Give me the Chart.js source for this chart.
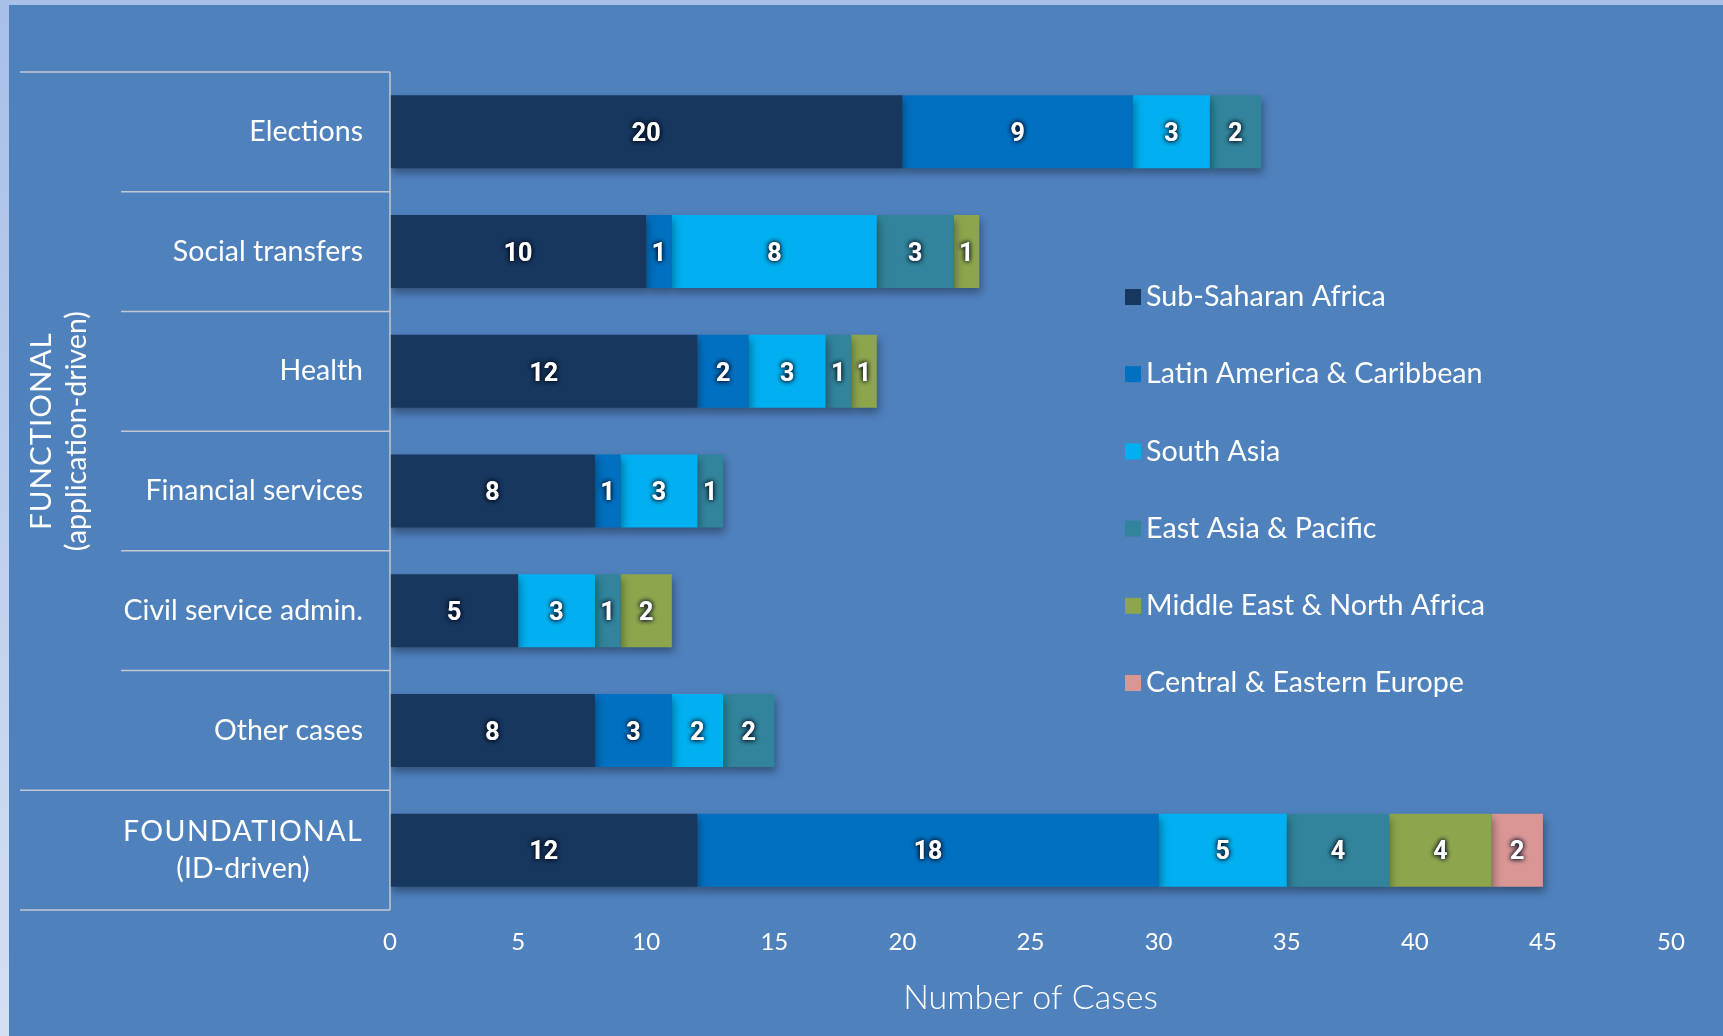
<!DOCTYPE html>
<html>
<head>
<meta charset="utf-8">
<title>Number of Cases by Region</title>
<script src="https://cdn.jsdelivr.net/npm/chart.js@4.4.1/dist/chart.umd.min.js"></script>
<style>
    html, body { margin: 0; padding: 0; width: 1723px; height: 1036px; overflow: hidden; }
    body { position: relative; background: linear-gradient(to bottom, #a8bfe8, #d4dff2); }
    #panel { position: absolute; left: 9px; top: 5px; right: 0; bottom: 0; background: #4f81bd; }
    #wrap { position: absolute; left: 0; top: 0; width: 1723px; height: 1036px; }
</style>
</head>
<body>
<div id="panel"></div>
<div id="wrap"><canvas id="casesChart" width="1723" height="1036"></canvas></div>
<script>
// --- data ---
const categories = [
    'Elections',
    'Social transfers',
    'Health',
    'Financial services',
    'Civil service admin.',
    'Other cases',
    ['FOUNDATIONAL', '(ID-driven)']
];
const groupLabel = ['FUNCTIONAL', '(application-driven)'];

const regions = [
    'Sub-Saharan Africa',
    'Latin America & Caribbean',
    'South Asia',
    'East Asia & Pacific',
    'Middle East & North Africa',
    'Central & Eastern Europe'
];
const subSaharanAfrica = [20, 10, 12, 8, 5, 8, 12];
const latinAmerica     = [9, 1, 2, 1, 0, 3, 18];
const southAsia        = [3, 8, 3, 3, 3, 2, 5];
const eastAsiaPacific  = [2, 3, 1, 1, 1, 2, 4];
const middleEast       = [0, 1, 1, 0, 2, 0, 4];
const centralEurope    = [0, 0, 0, 0, 0, 0, 2];

const xMin = 0;
const xMax = 50;
const xStep = 5;

const regionColors = ['#17375e', '#0070c0', '#00b0f0', '#31849b', '#8da64d', '#d99694'];
const seriesValues = [subSaharanAfrica, latinAmerica, southAsia, eastAsiaPacific, middleEast, centralEurope];

const FONT = 'Lato, "Open Sans", sans-serif';

// --- plugins ---

// soft drop shadow under the bars + value labels
const barDecor = {
    id: 'barDecor',
    beforeDatasetsDraw(chart) {
        const ctx = chart.ctx;
        ctx.save();
        ctx.shadowColor = 'rgba(0, 0, 0, 0.35)';
        ctx.shadowBlur = 8;
        ctx.shadowOffsetX = 2;
        ctx.shadowOffsetY = 5;
    },
    afterDatasetsDraw(chart) {
        const ctx = chart.ctx;
        ctx.restore();

        ctx.save();
        ctx.font = 'bold 25px Roboto, sans-serif';
        ctx.fillStyle = '#ffffff';
        ctx.textAlign = 'center';
        ctx.textBaseline = 'middle';
        ctx.shadowColor = 'rgba(0, 10, 30, 0.95)';
        ctx.shadowBlur = 5;
        chart.data.datasets.forEach((ds, di) => {
            const meta = chart.getDatasetMeta(di);
            meta.data.forEach((bar, i) => {
                const v = ds.data[i];
                if (!v) return;
                const p = bar.getProps(['x', 'y', 'base'], true);
                const cx = (p.x + p.base) / 2;
                ctx.fillText(String(v), cx, p.y + 3);
                ctx.fillText(String(v), cx, p.y + 3);
            });
        });
        ctx.restore();
    }
};

// category labels, table lines, rotated group label and the legend
const tableAndLegend = {
    id: 'tableAndLegend',
    afterDraw(chart) {
        const ctx = chart.ctx;
        const y = chart.scales.y;
        const area = chart.chartArea;
        const half = (y.getPixelForValue(1) - y.getPixelForValue(0)) / 2;
        const edges = [];
        for (let i = 0; i <= categories.length; i++) {
            edges.push(y.getPixelForValue(i) - half);
        }

        ctx.save();
        ctx.strokeStyle = '#c3c8d0';
        ctx.lineWidth = 1.5;
        edges.forEach((ey, i) => {
            const startX = (i === 0 || i >= categories.length - 1) ? 20 : 121;
            ctx.beginPath();
            ctx.moveTo(startX, ey);
            ctx.lineTo(area.left, ey);
            ctx.stroke();
        });
        ctx.beginPath();
        ctx.moveTo(area.left, edges[0]);
        ctx.lineTo(area.left, edges[edges.length - 1]);
        ctx.stroke();

        // category labels (multi-line ones are centred under their first line)
        const labelRight = area.left - 27;
        ctx.fillStyle = '#ffffff';
        ctx.textBaseline = 'middle';
        ctx.font = '28.5px ' + FONT;
        categories.forEach((lab, i) => {
            const cy = y.getPixelForValue(i);
            if (Array.isArray(lab)) {
                ctx.letterSpacing = '1.4px';
                const w = Math.max(...lab.map(s => ctx.measureText(s).width));
                ctx.textAlign = 'center';
                const lh = 37;
                lab.forEach((s, k) => {
                    ctx.letterSpacing = (s === s.toUpperCase()) ? '1.4px' : '0px';
                    ctx.fillText(s, labelRight - w / 2, cy + (k - (lab.length - 1) / 2) * lh);
                });
                ctx.letterSpacing = '0px';
            } else {
                ctx.textAlign = 'right';
                ctx.fillText(lab, labelRight, cy);
            }
        });

        // rotated FUNCTIONAL label
        const midY = (edges[0] + edges[categories.length - 1]) / 2;
        ctx.textAlign = 'center';
        ctx.translate(0, midY);
        ctx.rotate(-Math.PI / 2);
        ctx.font = '29.5px ' + FONT;
        ctx.letterSpacing = '1px';
        ctx.fillText(groupLabel[0], 0, 41);
        ctx.letterSpacing = '0px';
        ctx.font = '28.5px ' + FONT;
        ctx.fillText(groupLabel[1], 0, 77);
        ctx.restore();

        // legend
        ctx.save();
        ctx.font = '28.7px ' + FONT;
        ctx.textAlign = 'left';
        ctx.textBaseline = 'middle';
        chart.data.datasets.forEach((ds, i) => {
            const ly = 297 + i * 77.2;
            ctx.fillStyle = ds.backgroundColor;
            ctx.fillRect(1125, ly - 8, 16, 16);
            ctx.fillStyle = '#ffffff';
            ctx.fillText(ds.label, 1146, ly);
        });
        ctx.restore();
    }
};

// --- chart ---
const datasets = regions.map((name, i) => ({
    label: name,
    data: seriesValues[i],
    backgroundColor: regionColors[i],
    borderWidth: 0,
    barPercentage: 0.61,
    categoryPercentage: 1.0
}));

new Chart(document.getElementById('casesChart'), {
    type: 'bar',
    data: { labels: categories, datasets: datasets },
    options: {
        indexAxis: 'y',
        responsive: false,
        animation: false,
        layout: { padding: { top: 72, left: 20, right: 52, bottom: 0 } },
        plugins: {
            legend: { display: false },
            tooltip: { enabled: false }
        },
        scales: {
            x: {
                stacked: true,
                min: xMin,
                max: xMax,
                ticks: {
                    stepSize: xStep,
                    color: '#ffffff',
                    font: { family: FONT, size: 24 },
                    padding: 18,
                    maxRotation: 0
                },
                grid: { display: false, drawTicks: false },
                border: { display: false },
                title: {
                    display: true,
                    text: 'Number of Cases',
                    color: '#ffffff',
                    font: { family: FONT, size: 34, weight: 300 },
                    padding: { top: 0, bottom: 18 }
                },
                afterFit(scale) { scale.height = 126; }
            },
            y: {
                stacked: true,
                ticks: { display: false },
                grid: { display: false, drawTicks: false },
                border: { display: false },
                afterFit(scale) { scale.width = 370; }
            }
        }
    },
    plugins: [barDecor, tableAndLegend]
});
</script>
</body>
</html>
